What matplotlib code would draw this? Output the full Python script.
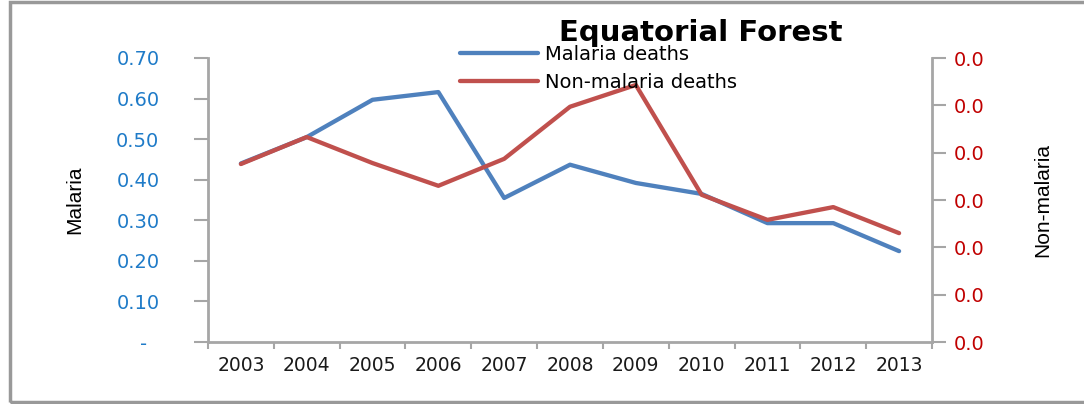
import numpy as np
import matplotlib
matplotlib.use("Agg")
import matplotlib.pyplot as plt
from matplotlib.patches import Rectangle
from matplotlib.ticker import FuncFormatter, MultipleLocator

# data
years = ['2003', '2004', '2005', '2006', '2007', '2008',
         '2009', '2010', '2011', '2012', '2013']
malaria = [0.44, 0.505, 0.597, 0.616, 0.355, 0.437,
           0.392, 0.365, 0.293, 0.293, 0.224]
non_malaria = [0.00376, 0.00433, 0.00378, 0.00330, 0.00387, 0.00497,
               0.00543, 0.00311, 0.00258, 0.00285, 0.00230]

blue = '#4F81BD'
red = '#C0504D'
grey = '#A6A6A6'

fig = plt.figure(figsize=(10.84, 4.04), dpi=100)
ax = fig.add_axes([208 / 1084, 1 - 342 / 404, 724 / 1084, 284 / 404])
ax2 = ax.twinx()

x = np.arange(len(years))
ax.plot(x, malaria, color=blue, lw=3.1, solid_capstyle='round', label='Malaria deaths')
ax2.plot(x, non_malaria, color=red, lw=3.1, solid_capstyle='round', label='Non-malaria deaths')

ax.set_xlim(-0.5, len(years) - 0.5)
ax.set_ylim(0, 0.70)
ax2.set_ylim(0, 0.006)
ax.yaxis.set_major_locator(MultipleLocator(0.10))
ax2.yaxis.set_major_locator(MultipleLocator(0.001))

ax.yaxis.set_major_formatter(FuncFormatter(lambda v, p: '-  ' if abs(v) < 1e-9 else '%.2f' % v))
ax2.yaxis.set_major_formatter(FuncFormatter(lambda v, p: '%.1f' % v))

# category labels, ticks on the category boundaries
ax.set_xticks(x)
ax.set_xticklabels(years)
ax.set_xticks(np.arange(len(years) + 1) - 0.5, minor=True)
ax.tick_params(axis='x', which='major', length=0, pad=10, labelsize=13.5, labelcolor='#1a1a1a')
ax.tick_params(axis='x', which='minor', length=5, width=1.5, color=grey, direction='out')

ax.tick_params(axis='y', length=10, width=1.5, color=grey, pad=25, labelsize=14, labelcolor='#1F7BC8')
ax2.tick_params(axis='y', length=10, width=1.5, color=grey, pad=6, labelsize=14, labelcolor='#C00000')

for a in (ax, ax2):
    a.spines['top'].set_visible(False)
    for s in ('left', 'right', 'bottom'):
        a.spines[s].set_color(grey)
        a.spines[s].set_linewidth(2)
ax.spines['right'].set_visible(False)
ax2.spines['left'].set_visible(False)
ax2.spines['bottom'].set_visible(False)

narrow = ['Liberation Sans Narrow', 'Liberation Sans', 'DejaVu Sans']
fig.text(75 / 1084, 1 - 200 / 404, 'Malaria', rotation=90, ha='center', va='center',
         fontsize=15, family=narrow)
fig.text(1043 / 1084, 1 - 200 / 404, 'Non-malaria', rotation=90, ha='center', va='center',
         fontsize=15, family=narrow)

fig.text(701 / 1084, 1 - 33 / 404, 'Equatorial Forest', ha='center', va='center',
         fontsize=21, fontweight='bold')

h1, l1 = ax.get_legend_handles_labels()
h2, l2 = ax2.get_legend_handles_labels()
fig.legend(h1 + h2, l1 + l2, loc='upper left', bbox_to_anchor=(460 / 1084, 1 - 45 / 404),
           frameon=False, fontsize=14, handlelength=4.0, handletextpad=0.35,
           labelspacing=0.45, borderpad=0, borderaxespad=0)

# grey chart-area frame, cut off on the right as in the reference
fig.patches.append(Rectangle((10 / 1084, 2 / 404), 1.2, 400 / 404, transform=fig.transFigure,
                             fill=False, edgecolor='#999999', lw=2.5, clip_on=False))

fig.savefig('out.png', dpi=100)
